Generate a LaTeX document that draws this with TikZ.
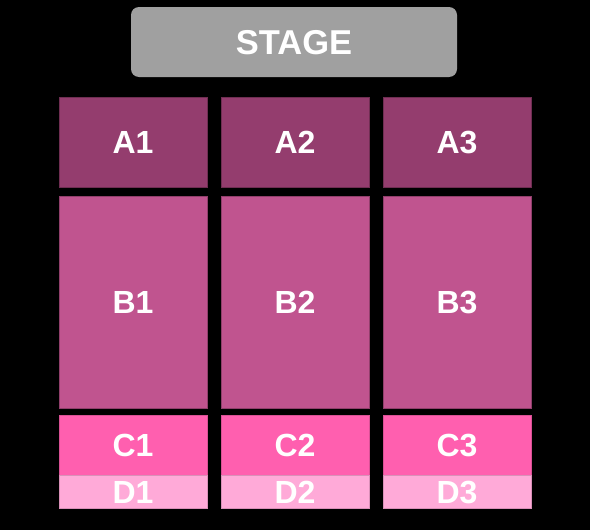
\documentclass[tikz,border=0pt]{standalone}
\usepackage{fontspec}
\setmainfont{Liberation Sans}
\usepackage{xcolor}
\usetikzlibrary{positioning}
\definecolor{stagegray}{HTML}{A0A0A0}
\definecolor{seata}{HTML}{943D6E}
\definecolor{seatb}{HTML}{C0548F}
\definecolor{seatc}{HTML}{FF5FAF}
\definecolor{seatd}{HTML}{FFAAD8}
\tikzstyle{sec}=[draw, inner sep=0, text=white, line width=0.7pt,
		minimum width=148pt, text height=23pt, text depth=0pt,
		font=\bfseries\fontsize{32}{32}\selectfont]
\tikzstyle{sa}=[sec, fill=seata, draw=seata!75!black, minimum height=90pt]
\tikzstyle{sb}=[sec, fill=seatb, draw=seatb!75!black, minimum height=212pt]
\tikzstyle{sc}=[sec, fill=seatc, draw=seatc!85!black, minimum height=60pt]
\tikzstyle{sd}=[sec, fill=seatd, draw=seatd!85!black, minimum height=33pt]
\begin{document}
\begin{tikzpicture}[x=1pt, y=-1pt]
        \fill[black] (0,0) rectangle (590,530);
        \useasboundingbox (0,0) rectangle (590,530);
        % stage
        \node[fill=stagegray, rounded corners=8pt, inner sep=0, minimum width=326pt,
            minimum height=70pt, text=white, text height=24.7pt, text depth=0pt,
            font=\bfseries\fontsize{34.5}{34.5}\selectfont]
            (stage) at (294,42) {STAGE};
        % sections
        \node[sa] (a1) at (133,142) {A1};
        \node[sa] (a2) at (295,142) {A2};
        \node[sa] (a3) at (457,142) {A3};
        \node[sb] (b1) at (133,302) {B1};
        \node[sb] (b2) at (295,302) {B2};
        \node[sb] (b3) at (457,302) {B3};
        \node[sc] (c1) at (133,445) {C1};
        \node[sc] (c2) at (295,445) {C2};
        \node[sc] (c3) at (457,445) {C3};
        \node[sd] (d1) at (133,491.5) {D1};
        \node[sd] (d2) at (295,491.5) {D2};
        \node[sd] (d3) at (457,491.5) {D3};
\end{tikzpicture}
\end{document}
